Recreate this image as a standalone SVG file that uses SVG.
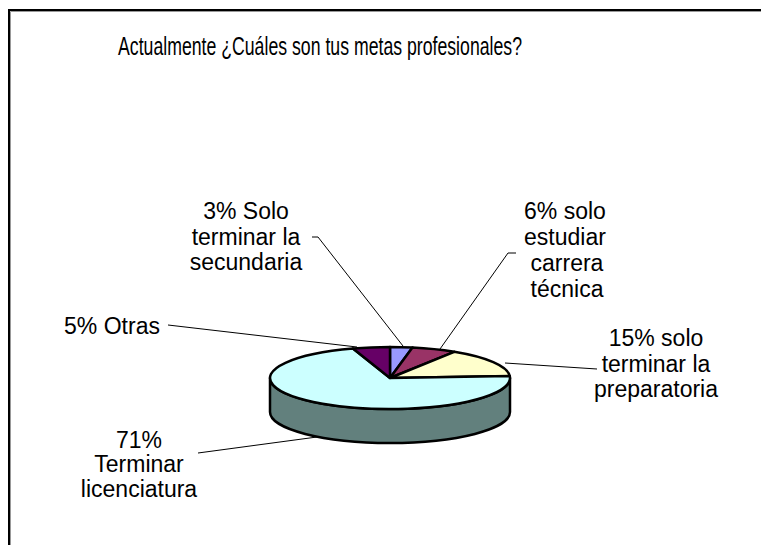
<svg xmlns="http://www.w3.org/2000/svg" width="761" height="545" viewBox="0 0 761 545">
<style>
text{font-family:"Liberation Sans",Arial,sans-serif;font-size:23px;fill:#000}
.lbl{text-anchor:middle}
.slice{stroke:#000;stroke-width:2.5;stroke-linejoin:round}
.lead{stroke:#000;stroke-width:1;fill:none}
</style>
<rect x="0" y="0" width="761" height="545" fill="#fff"/>
<g id="frame">
<path d="M9 545 V10 H761" fill="none" stroke="#000" stroke-width="2"/>
<path d="M10.5 545 V11.5 H761" fill="none" stroke="#999" stroke-width="1"/>
</g>
<text id="title" x="320" y="55" class="lbl" style="font-size:26px" textLength="404" lengthAdjust="spacingAndGlyphs">Actualmente ¿Cuáles son tus metas profesionales?</text>
<g id="pie">
<path class="slice" fill="#62807D" d="M510 378 A120 31 0 0 1 270 378 V412 A120 31 0 0 0 510 412 Z"/>
<g id="slice-secundaria"><path class="slice" fill="#9999FF" d="M390 378 L390 347 A120 31 0 0 1 412.49 347.55 Z"/></g>
<g id="slice-tecnica"><path class="slice" fill="#993366" d="M390 378 L412.49 347.55 A120 31 0 0 1 454.3 351.83 Z"/></g>
<g id="slice-preparatoria"><path class="slice" fill="#FFFFCC" d="M390 378 L454.3 351.83 A120 31 0 0 1 509.76 376.05 Z"/></g>
<g id="slice-licenciatura"><path class="slice" fill="#CCFFFF" d="M390 378 L509.76 376.05 A120 31 0 1 1 352.92 348.52 Z"/></g>
<g id="slice-otras"><path class="slice" fill="#660066" d="M390 378 L352.92 348.52 A120 31 0 0 1 390 347 Z"/></g>
</g>
<g id="connectors">
<path class="lead" d="M312 237 H318 L403 346"/>
<path class="lead" d="M516 253 H508 L440 349"/>
<path class="lead" d="M597 369 L505 363"/>
<path class="lead" d="M168 325 L357 347"/>
<path class="lead" d="M198 453 L317 437"/>
</g>
<g id="label-secundaria"><text class="lbl" x="246" y="219">3% Solo</text><text class="lbl" x="246" y="245">terminar la</text><text class="lbl" x="246" y="270">secundaria</text></g>
<g id="label-tecnica"><text class="lbl" x="565" y="219">6% solo</text><text class="lbl" x="565" y="245">estudiar</text><text class="lbl" x="567" y="271">carrera</text><text class="lbl" x="567" y="297">técnica</text></g>
<g id="label-preparatoria"><text class="lbl" x="656" y="346">15% solo</text><text class="lbl" x="656" y="372">terminar la</text><text class="lbl" x="656" y="397">preparatoria</text></g>
<g id="label-otras"><text class="lbl" x="112" y="334">5% Otras</text></g>
<g id="label-licenciatura"><text class="lbl" x="139" y="448">71%</text><text class="lbl" x="139" y="472">Terminar</text><text class="lbl" x="139" y="497">licenciatura</text></g>
</svg>
